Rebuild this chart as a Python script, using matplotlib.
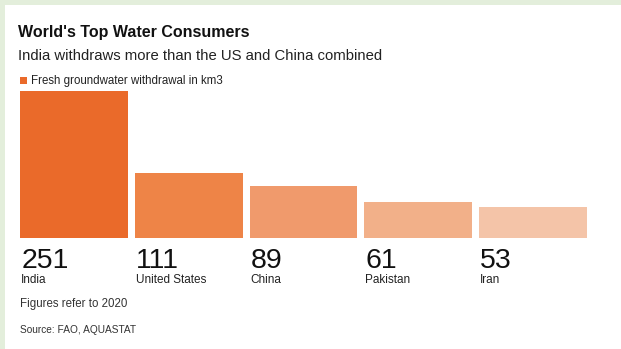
import matplotlib
matplotlib.use("Agg")
import matplotlib.pyplot as plt
from matplotlib.patches import Rectangle
from matplotlib.transforms import blended_transform_factory

countries = ["India", "United States", "China", "Pakistan", "Iran"]
withdrawal = [251, 111, 89, 61, 53]
bar_colors = ["#ea6a2a", "#ee8447", "#f09a6c", "#f2b089", "#f4c4a8"]

W, H = 621, 349
plt.rcParams["font.family"] = ["Liberation Sans", "DejaVu Sans"]

fig = plt.figure(figsize=(W / 100, H / 100), dpi=100)
fig.patch.set_facecolor("#e3eedb")
# white card inside the green frame
fig.add_artist(Rectangle((5 / W, 0), 1, 1 - 5 / H, transform=fig.transFigure,
                         facecolor="white", edgecolor="none", zorder=0))


def px(x, y):
    return x / W, 1 - y / H


ax = fig.add_axes([20 / W, (H - 238) / H, (587 - 20) / W, (238 - 91) / H])
ax.set_facecolor("none")
ax.bar(range(len(withdrawal)), withdrawal, width=0.94, color=bar_colors)
ax.set_xlim(-0.47, len(withdrawal) - 0.53)
ax.set_ylim(0, max(withdrawal))
ax.axis("off")

tr = blended_transform_factory(ax.transData, fig.transFigure)
for i, (c, v) in enumerate(zip(countries, withdrawal)):
    ax.text(i - 0.46, px(0, 268)[1], str(v), transform=tr, fontsize=20.5,
            color="#111111", ha="left", va="baseline")
    ax.text(i - 0.46, px(0, 283)[1], c, transform=tr, fontsize=8.5,
            color="#222222", ha="left", va="baseline")

fig.text(*px(18, 37), "World's Top Water Consumers", fontsize=11.5,
         fontweight="bold", color="#111111", va="baseline")
fig.text(*px(18, 60), "India withdraws more than the US and China combined",
         fontsize=10.7, color="#222222", va="baseline")
fig.add_artist(Rectangle(px(20, 84), 7 / W, 7 / H, transform=fig.transFigure,
                         facecolor=bar_colors[0], edgecolor="none"))
fig.text(*px(31, 84), "Fresh groundwater withdrawal in km3", fontsize=8.3,
         color="#222222", va="baseline")
fig.text(*px(20, 307), "Figures refer to 2020", fontsize=8.3,
         color="#333333", va="baseline")
fig.text(*px(20, 333), "Source: FAO, AQUASTAT", fontsize=7.3,
         color="#333333", va="baseline")

fig.savefig("out.png", dpi=100, facecolor=fig.get_facecolor())
